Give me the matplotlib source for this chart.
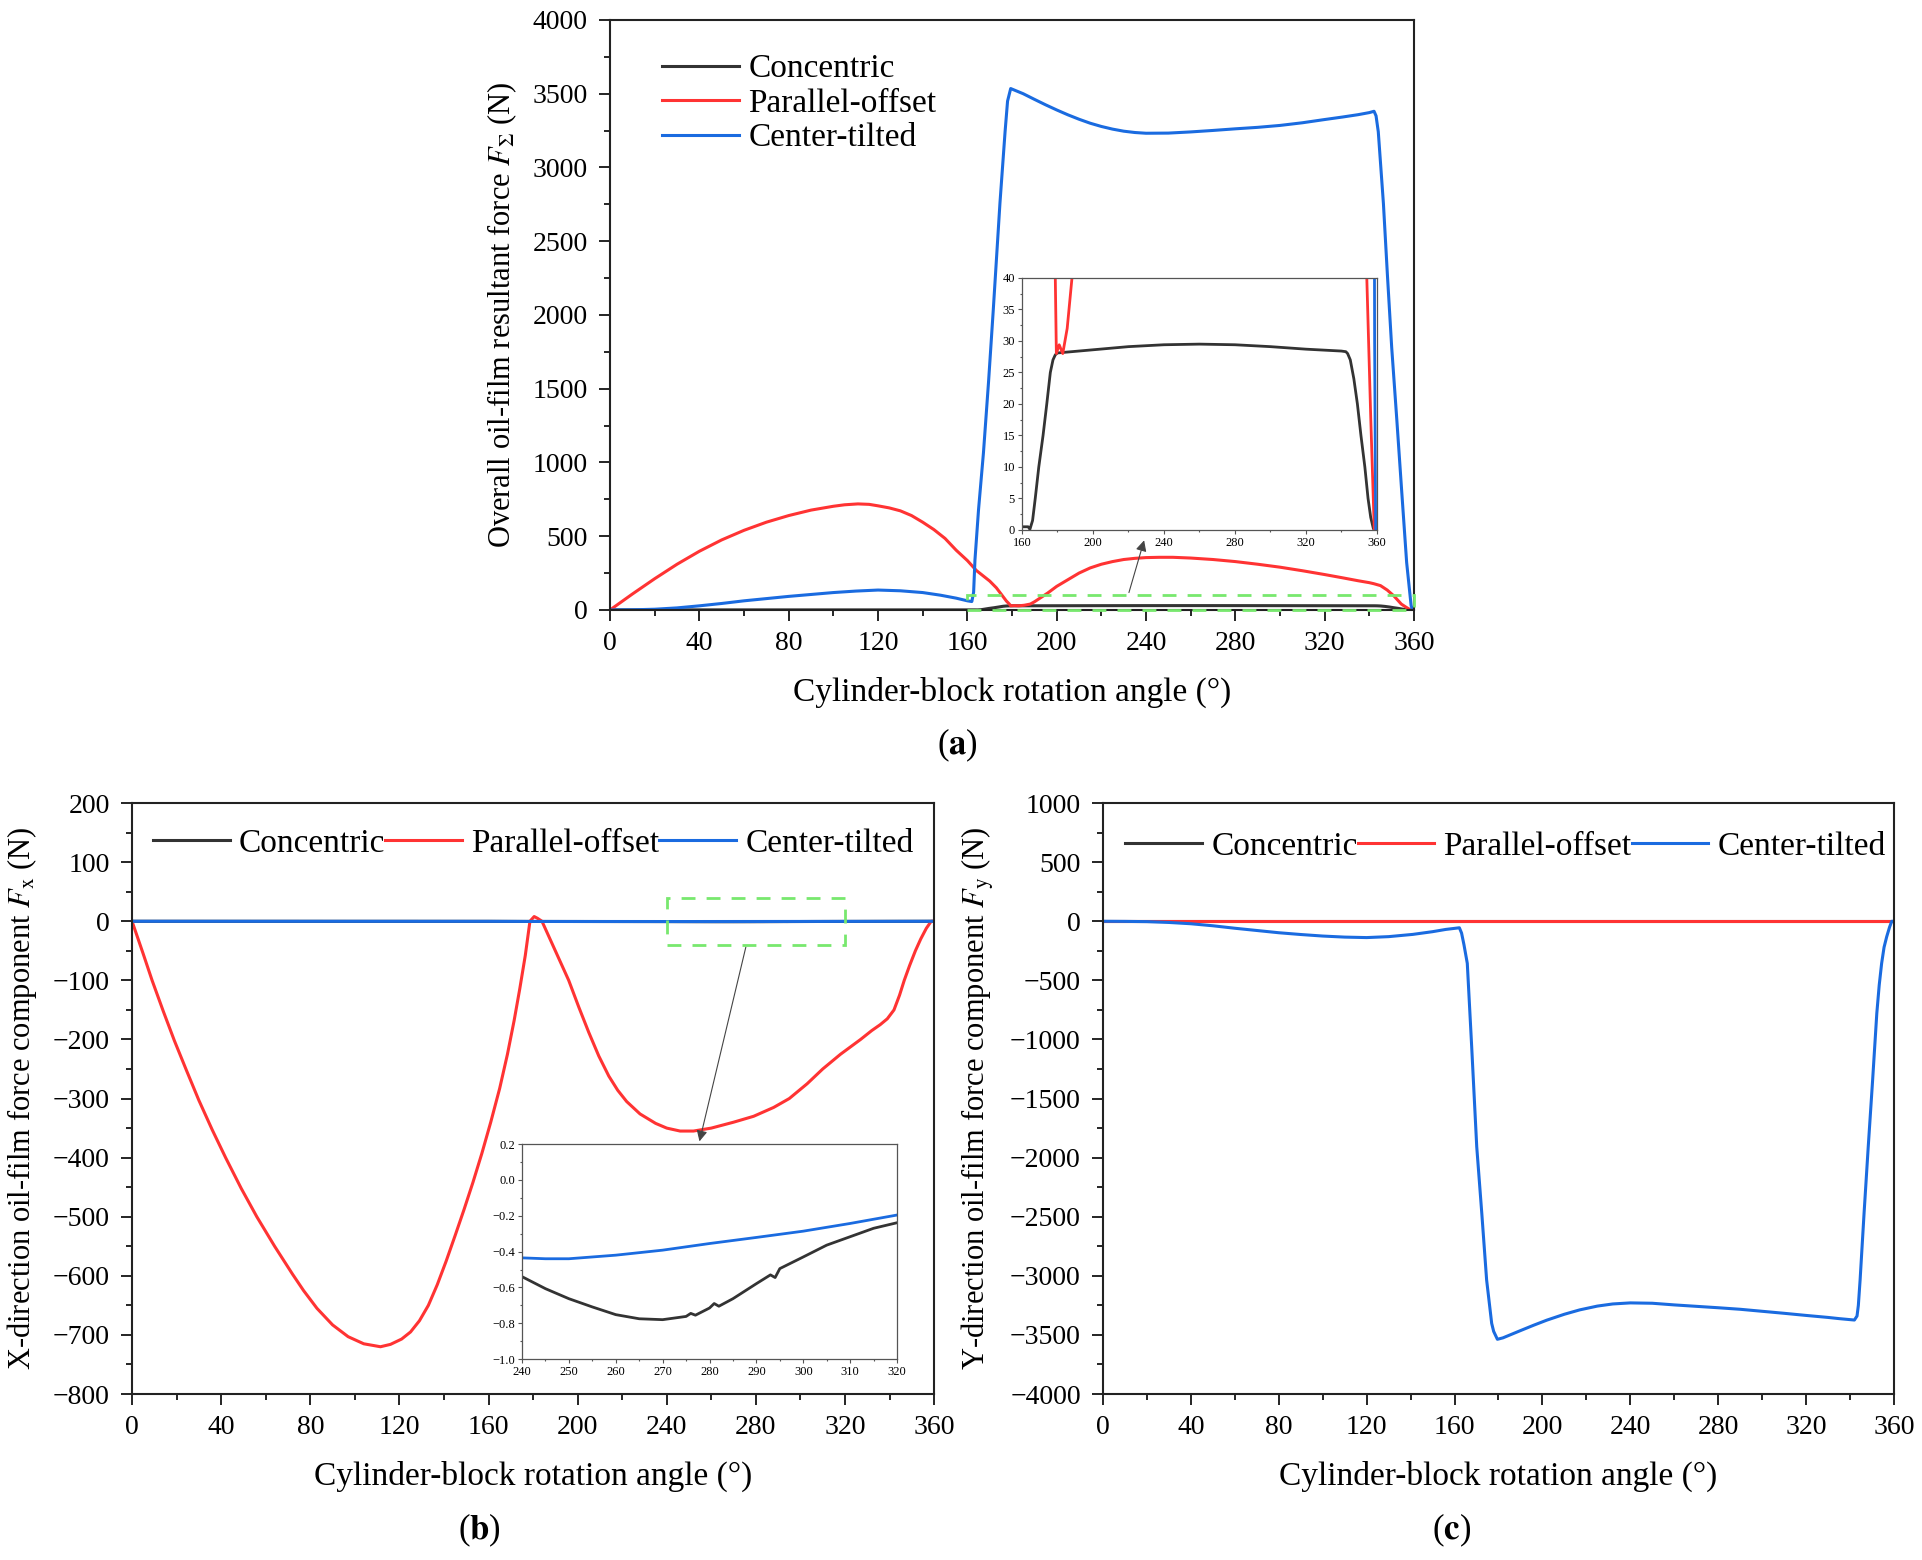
import matplotlib
matplotlib.use('Agg')
import matplotlib.pyplot as plt
from matplotlib.ticker import MultipleLocator
from matplotlib.patches import Rectangle

plt.rcParams['font.family'] = ['Liberation Serif', 'DejaVu Serif']
plt.rcParams['mathtext.fontset'] = 'stix'

labels = ['Concentric', 'Parallel-offset', 'Center-tilted']
c_black = '#333333'
c_red = '#ff3333'
c_blue = '#1a6be0'
c_green = '#78e86e'

# ---- (a) overall resultant force F_sigma (N) ----
a_black_x = [0, 160, 163.5, 164.5, 166, 167.5, 169.5, 171.9, 174, 176, 177.5, 178.8, 180,
             200, 220, 240, 260, 280, 300, 320, 340, 342.5, 343.5, 345, 347, 349, 351,
             353.2, 355, 356.5, 358, 360]
a_black_y = [0.5, 0.5, 0.5, 0.1, 1.5, 5, 10, 15, 20, 25, 27, 27.8, 28.1,
             28.6, 29.1, 29.4, 29.5, 29.4, 29.1, 28.7, 28.4, 28.3, 28, 27, 24, 20, 15,
             10, 5, 2, 0.2, 0]

a_red_x = [0, 10, 20, 30, 40, 50, 60, 70, 80, 90, 100, 105, 111, 116, 120, 125, 130, 135,
           140, 145, 150, 155, 160, 164, 170, 173, 175.5, 177.5, 178.8, 179.4, 181, 183,
           185.5, 188.2, 190, 192, 196, 200, 205, 210, 215, 220, 225, 230, 235, 240, 246,
           252, 260, 270, 280, 290, 300, 310, 320, 328, 335, 340, 342, 345, 348, 351,
           354.3, 356.5, 358.5, 360]
a_red_y = [0, 108, 212, 310, 398, 475, 540, 595, 640, 677, 703, 713, 719, 716, 706, 692,
           672, 640, 595, 545, 485, 405, 335, 268, 196, 150, 100, 60, 40, 28, 29.4, 28,
           32, 40, 55, 75, 115, 160, 205, 250, 285, 310, 328, 342, 350, 355, 357,
           357, 352, 342, 328, 310, 290, 266, 240, 218, 198, 185, 178, 165, 135, 95,
           40, 18, 0, 0]

a_blue_x = [0, 10, 20, 30, 40, 50, 60, 70, 80, 90, 100, 110, 120, 130, 140, 148, 155, 160,
            162, 162.8, 163.4, 165, 167.2, 169.5, 171.6, 174.6, 176.9, 178, 179.4, 181, 185,
            190, 195, 200, 205, 210, 215, 220, 225, 230, 235, 240, 250, 260, 270, 280, 290,
            300, 310, 320, 328, 335, 340, 342.1, 343, 344.0, 346.3, 348.1, 350, 352.3,
            354.5, 356.7, 358.7, 359.3, 360]
a_blue_y = [0, 1, 5, 14, 28, 44, 62, 77, 92, 105, 118, 128, 135, 130, 118, 100, 80, 62,
            57, 120, 339, 680, 1065, 1550, 2034, 2760, 3245, 3450, 3535, 3525, 3500,
            3462, 3425, 3390, 3357, 3327, 3300, 3278, 3260, 3246, 3237, 3232, 3233, 3241,
            3251, 3262, 3272, 3285, 3303, 3325, 3342, 3358, 3372, 3381, 3350, 3242, 2755,
            2268, 1781, 1289, 802, 322, 30, 0, 0]

# ---- (b) X-direction component F_x (N) ----
b_black_x = [0, 160, 180, 240, 245, 250, 255, 260, 265, 270, 275, 276, 277, 280, 281, 282,
             285, 290, 293, 294, 295, 300, 305, 310, 315, 320, 340, 360]
b_black_y = [0, -0.1, -0.3, -0.54, -0.607, -0.663, -0.709, -0.752, -0.775, -0.78, -0.762,
             -0.745, -0.755, -0.715, -0.69, -0.705, -0.663, -0.579, -0.53, -0.545, -0.495,
             -0.43, -0.364, -0.317, -0.27, -0.239, -0.1, 0]

b_red_x = [0, 5, 9, 14, 19, 24.5, 30, 36, 42, 49, 56, 64, 72, 77, 83, 90, 97, 104, 111.5,
           116, 121, 125, 129, 133, 137, 141, 145, 149, 153, 157, 161, 165, 168.5, 171.5,
           174, 176.5, 178.6, 180.5, 182, 184, 187, 190, 193, 196, 200.5, 205, 209.5, 214,
           218, 222, 228, 235, 240, 246, 252, 260, 270, 279, 288, 295, 303, 310, 318, 327,
           332, 335.8, 339, 342, 344.5, 346.6, 349, 351.6, 354, 356.5, 358.7, 360]
b_red_y = [0, -55, -100, -152, -202, -253, -303, -353, -400, -452, -500, -550, -597, -625,
           -655, -683, -703, -715, -720, -716, -707, -695, -676, -650, -615, -575, -532,
           -488, -442, -393, -340, -283, -225, -168, -115, -58, 0, 8, 5, 0, -25, -50, -75,
           -100, -145, -188, -228, -262, -286, -305, -326, -342, -350, -355, -355, -350,
           -340, -330, -315, -300, -275, -250, -225, -200, -185, -175, -165, -150, -125,
           -100, -75, -50, -30, -12, 0, 0]

b_blue_x = [0, 160, 180, 240, 245, 250, 260, 270, 280, 290, 300, 310, 320, 340, 360]
b_blue_y = [0, -0.1, -0.3, -0.435, -0.44, -0.44, -0.42, -0.392, -0.355, -0.321, -0.286,
            -0.243, -0.196, -0.1, 0]

# ---- (c) Y-direction component F_y (N) ----
c_black_x = [0, 360]
c_black_y = [0, 0]
c_red_x = [0, 360]
c_red_y = [0, 0]
c_blue_x = [0, 10, 20, 30, 40, 50, 60, 70, 80, 90, 100, 110, 120, 130, 141, 150, 156, 160,
            162.2, 163.2, 164.3, 165.8, 167.8, 170.1, 172.4, 174.6, 176.9, 177.8, 179.5, 182,
            189.8, 196, 202, 210, 217, 225, 232, 240, 250, 260, 270, 280, 290, 300, 310,
            320, 330, 335, 342, 343.2, 343.8, 344.6, 346.4, 348.3, 350.3, 352.2, 353.3,
            354.4, 355.5, 356.7, 358, 359, 360]
c_blue_y = [0, -1, -3, -10, -21, -38, -59, -78, -97, -112, -125, -134, -138, -130, -111,
            -88, -69, -60, -55, -100, -200, -356, -1062, -1908, -2471, -3035, -3402, -3470,
            -3537, -3525, -3465, -3418, -3375, -3325, -3288, -3256, -3238, -3229, -3232,
            -3246, -3258, -3270, -3283, -3300, -3317, -3335, -3352, -3362, -3374, -3340,
            -3250, -3035, -2471, -1908, -1343, -779, -540, -356, -220, -131, -50, 0, 0]

TICK = 20
XLAB = 24
YLAB = 22
LEG = 24
LW = 2.2


def style(ax, xmaj, xmin, ymaj, ymin, lims, small=False):
    ax.set_xlim(lims[0], lims[1])
    ax.set_ylim(lims[2], lims[3])
    ax.xaxis.set_major_locator(MultipleLocator(xmaj))
    ax.xaxis.set_minor_locator(MultipleLocator(xmin))
    ax.yaxis.set_major_locator(MultipleLocator(ymaj))
    ax.yaxis.set_minor_locator(MultipleLocator(ymin))
    if small:
        for s in ax.spines.values():
            s.set_linewidth(0.9)
            s.set_color('#555555')
        ax.tick_params(which='both', direction='out', top=False, right=False,
                       labelsize=9, width=0.8, color='#555555', pad=2)
        ax.tick_params(which='major', length=3)
        ax.tick_params(which='minor', length=1.5)
    else:
        for s in ax.spines.values():
            s.set_linewidth(1.5)
            s.set_color('#222222')
        ax.tick_params(which='both', direction='out', top=False, right=False,
                       labelsize=TICK, width=1.2)
        ax.tick_params(which='major', length=8)
        ax.tick_params(which='minor', length=4)
        ax.tick_params(axis='x', pad=7)
        ax.tick_params(axis='y', pad=8)


fig = plt.figure(figsize=(19.22, 15.6), dpi=100)

# (a)
ax_a = fig.add_axes([0.3174, 0.6090, 0.4183, 0.3782])
ax_a.plot(a_black_x, a_black_y, color=c_black, lw=LW, label=labels[0])
ax_a.plot(a_red_x, a_red_y, color=c_red, lw=LW, label=labels[1])
ax_a.plot(a_blue_x, a_blue_y, color=c_blue, lw=LW, label=labels[2])
style(ax_a, 40, 20, 500, 250, (0, 360, 0, 4000))
ax_a.set_xlabel('Cylinder-block rotation angle (°)', fontsize=XLAB, labelpad=15)
ax_a.set_ylabel(r'Overall oil-film resultant force $F_{\Sigma}$ (N)', fontsize=YLAB, labelpad=10)
ax_a.legend(loc='center left', bbox_to_anchor=(0.065, 0.858), frameon=False, fontsize=LEG,
            handlelength=2.3, handletextpad=0.28, labelspacing=0.12, borderpad=0,
            borderaxespad=0)
ax_a.add_patch(Rectangle((160, 0), 200, 100, fill=False, ls=(0, (5, 4)), lw=2,
                         color=c_green, zorder=5, clip_on=False))
ax_a.annotate('', xy=(239.5, 490), xytext=(232, 100),
              arrowprops=dict(arrowstyle='-|>', color='#444444', lw=0.8, mutation_scale=16))
fig.text(0.498, 1 - 745 / 1560, r'($\mathbf{a}$)', fontsize=25, ha='center', va='center')

ins_a = fig.add_axes([0.5317, 0.6603, 0.1847, 0.1615])
ins_a.plot(a_black_x, a_black_y, color=c_black, lw=2)
ins_a.plot(a_red_x, a_red_y, color=c_red, lw=2)
ins_a.plot(a_blue_x, a_blue_y, color=c_blue, lw=2)
style(ins_a, 40, 20, 5, 2.5, (160, 360, 0, 40), small=True)

# (b)
ax_b = fig.add_axes([0.0687, 0.1064, 0.4173, 0.3788])
ax_b.plot(b_black_x, b_black_y, color=c_black, lw=LW, label=labels[0])
ax_b.plot(b_red_x, b_red_y, color=c_red, lw=LW, label=labels[1])
ax_b.plot(b_blue_x, b_blue_y, color=c_blue, lw=LW, label=labels[2])
style(ax_b, 40, 20, 100, 50, (0, 360, -800, 200))
ax_b.set_xlabel('Cylinder-block rotation angle (°)', fontsize=XLAB, labelpad=15)
ax_b.set_ylabel(r'X-direction oil-film force component $F_{\mathrm{x}}$ (N)', fontsize=YLAB,
                labelpad=10)
ax_b.legend(loc='center left', bbox_to_anchor=(0.026, 0.932), frameon=False, fontsize=LEG,
            ncol=3, handlelength=2.3, handletextpad=0.28, columnspacing=0.0, borderpad=0,
            borderaxespad=0)
ax_b.add_patch(Rectangle((240, -40), 80, 80, fill=False, ls=(0, (5, 4)), lw=2,
                         color=c_green, zorder=5))
ax_b.annotate('', xy=(254.4, -377), xytext=(275.8, -39),
              arrowprops=dict(arrowstyle='-|>', color='#444444', lw=0.8, mutation_scale=16))
fig.text(479 / 1922, 1 - 1530 / 1560, r'($\mathbf{b}$)', fontsize=25, ha='center', va='center')

ins_b = fig.add_axes([0.2716, 0.1288, 0.1951, 0.1378])
ins_b.plot(b_black_x, b_black_y, color=c_black, lw=2)
ins_b.plot(b_red_x, b_red_y, color=c_red, lw=2)
ins_b.plot(b_blue_x, b_blue_y, color=c_blue, lw=2)
style(ins_b, 10, 5, 0.2, 0.1, (240, 320, -1.0, 0.2), small=True)

# (c)
ax_c = fig.add_axes([0.5739, 0.1064, 0.4115, 0.3788])
ax_c.plot(c_black_x, c_black_y, color=c_black, lw=LW, label=labels[0])
ax_c.plot(c_red_x, c_red_y, color=c_red, lw=LW, label=labels[1])
ax_c.plot(c_blue_x, c_blue_y, color=c_blue, lw=LW, label=labels[2])
style(ax_c, 40, 20, 500, 250, (0, 360, -4000, 1000))
ax_c.set_xlabel('Cylinder-block rotation angle (°)', fontsize=XLAB, labelpad=15)
ax_c.set_ylabel(r'Y-direction oil-film force component $F_{\mathrm{y}}$ (N)', fontsize=YLAB,
                labelpad=10)
ax_c.legend(loc='center left', bbox_to_anchor=(0.028, 0.926), frameon=False, fontsize=LEG,
            ncol=3, handlelength=2.3, handletextpad=0.28, columnspacing=0.0, borderpad=0,
            borderaxespad=0)
fig.text(1452 / 1922, 1 - 1530 / 1560, r'($\mathbf{c}$)', fontsize=25, ha='center', va='center')

fig.savefig('out.png', dpi=100, facecolor='white')
